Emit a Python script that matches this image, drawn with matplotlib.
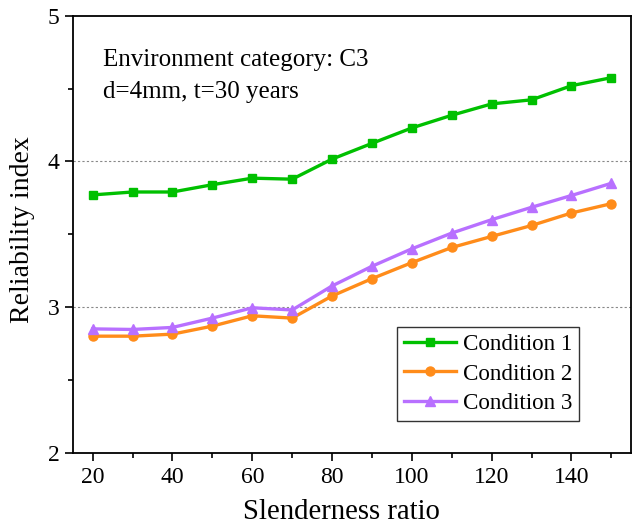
import matplotlib
matplotlib.use("Agg")
import matplotlib.pyplot as plt
from matplotlib.ticker import MultipleLocator

slenderness = [20, 30, 40, 50, 60, 70, 80, 90, 100, 110, 120, 130, 140, 150]
condition1 = [3.77, 3.79, 3.79, 3.84, 3.885, 3.878, 4.016, 4.124, 4.23, 4.317, 4.395, 4.423, 4.52, 4.575]
condition2 = [2.80, 2.80, 2.814, 2.869, 2.94, 2.924, 3.076, 3.195, 3.305, 3.409, 3.485, 3.56, 3.646, 3.71]
condition3 = [2.85, 2.846, 2.86, 2.924, 2.995, 2.98, 3.145, 3.28, 3.40, 3.508, 3.60, 3.685, 3.766, 3.85]
labels = ["Condition 1", "Condition 2", "Condition 3"]
annot = ["Environment category: C3", "d=4mm, t=30 years"]

plt.rcParams['font.family'] = ['Liberation Serif', 'DejaVu Serif']
plt.rcParams['mathtext.fontset'] = 'stix'

fig = plt.figure(figsize=(6.35, 5.26), dpi=100)
ax = fig.add_axes([0.1145, 0.1394, 0.8785, 0.8306])

ax.plot(slenderness, condition1, color='#00c000', lw=2.4, marker='s', ms=6, label=labels[0])
ax.plot(slenderness, condition2, color='#ff8c1a', lw=2.4, marker='o', ms=6.5, label=labels[1])
ax.plot(slenderness, condition3, color='#b870ff', lw=2.4, marker='^', ms=7.5, label=labels[2])

ax.set_xlim(15, 154.8)
ax.set_ylim(2, 5)
ax.xaxis.set_major_locator(MultipleLocator(20))
ax.xaxis.set_minor_locator(MultipleLocator(10))
ax.yaxis.set_major_locator(MultipleLocator(1))
ax.yaxis.set_minor_locator(MultipleLocator(0.5))
ax.tick_params(which='major', direction='out', length=6, width=1.2, labelsize=17)
ax.tick_params(which='minor', direction='out', length=3.5, width=1.2)
ax.tick_params(axis='x', pad=4)
for s in ax.spines.values():
    s.set_linewidth(1.3)

for yv in [3, 4]:
    ax.axhline(yv, color='#888888', lw=0.8, ls=(0, (2, 2)), zorder=0)

ax.set_xlabel("Slenderness ratio", fontsize=20.7)
ax.set_ylabel("Reliability index", fontsize=20)
ax.xaxis.set_label_coords(0.481, -0.105)
ax.yaxis.set_label_coords(-0.068, 0.51)

ax.text(0.054, 0.886, annot[0], transform=ax.transAxes, fontsize=18, va='baseline', ha='left')
ax.text(0.054, 0.811, annot[1], transform=ax.transAxes, fontsize=18, va='baseline', ha='left')

leg = ax.legend(loc='upper right', bbox_to_anchor=(0.908, 0.2876), borderaxespad=0,
                fontsize=16.6, frameon=True, fancybox=False, edgecolor='black',
                handlelength=2.26, labelspacing=0.36, borderpad=0.3, handletextpad=0.3)
leg.get_frame().set_linewidth(1.0)

fig.savefig("out.png", dpi=100)
